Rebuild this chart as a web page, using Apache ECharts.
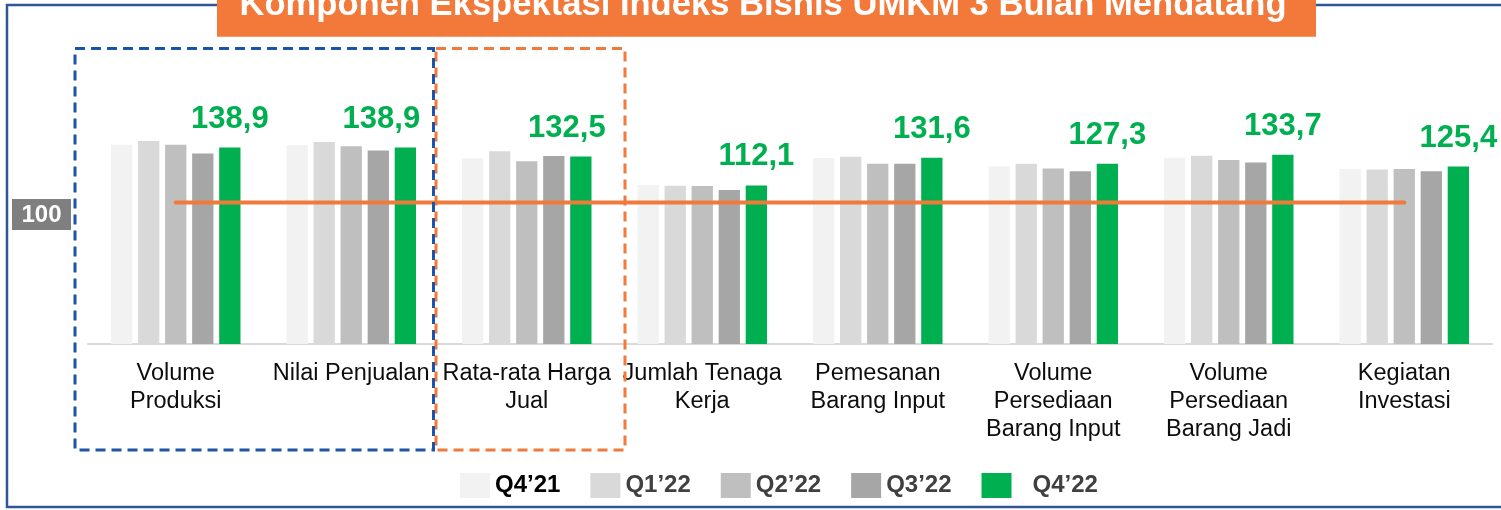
<!DOCTYPE html>
<html lang="id">
<head>
    <meta charset="UTF-8">
    <script src="https://cdn.jsdelivr.net/npm/echarts@6/dist/echarts.min.js"></script>
    <title>Komponen Ekspektasi Indeks Bisnis UMKM</title>
    <style>
        html, body { margin: 0; padding: 0; background: #fff; }
        #main { width: 1501px; height: 510px; }
    </style>
</head>
<body>
    <div id="main"></div>
    <script>
        // data
        var categories = ['Volume\nProduksi', 'Nilai Penjualan', 'Rata-rata Harga\nJual', 'Jumlah Tenaga\nKerja',
            'Pemesanan\nBarang Input', 'Volume\nPersediaan\nBarang Input', 'Volume\nPersediaan\nBarang Jadi', 'Kegiatan\nInvestasi'];
        var q421 = [140.8, 140.5, 131.2, 112.3, 131.4, 125.7, 131.6, 123.6];
        var q122 = [143.4, 142.7, 136.3, 111.9, 132.3, 127.4, 133.0, 123.4];
        var q222 = [140.8, 139.8, 129.1, 111.6, 127.4, 124.1, 130.0, 123.6];
        var q322 = [134.7, 136.8, 132.8, 108.8, 127.4, 122.0, 128.3, 122.0];
        var q422 = [138.9, 138.9, 132.5, 112.1, 131.6, 127.3, 133.7, 125.4];
        var baseline = [100, 100, 100, 100, 100, 100, 100, 100];
        var seriesNames = ['Q4\u201921', 'Q1\u201922', 'Q2\u201922', 'Q3\u201922', 'Q4\u201922'];
        var seriesColors = ['#F2F2F2', '#D9D9D9', '#BFBFBF', '#A6A6A6', '#00B050'];

        var font = '"Liberation Sans", Arial, sans-serif';
        var chart = echarts.init(document.getElementById('main'));

        // labels of the 2nd and 3rd group are nudged left, clear of the dashed boxes
        var labelShift = { 1: -24, 2: -14 };

        function barSeries(i, values) {
            var s = {
                name: seriesNames[i],
                type: 'bar',
                data: values,
                barWidth: 21.3,
                barGap: '27%',
                itemStyle: { color: seriesColors[i] },
                z: 2
            };
            if (i === 4) {
                s.data = values.map(function (v, k) {
                    return labelShift[k] ? { value: v, label: { offset: [labelShift[k], 0] } } : v;
                });
                s.label = {
                    show: true,
                    position: 'top',
                    distance: 13,
                    color: '#00B050',
                    fontFamily: font,
                    fontWeight: 'bold',
                    fontSize: 31,
                    formatter: function (p) { return p.value.toFixed(1).replace('.', ','); }
                };
            }
            return s;
        }

        var option = {
            animation: false,
            backgroundColor: '#fff',
            grid: { left: 88, right: 9, top: 61, bottom: 166 },
            legend: {
                left: 455,
                top: 468,
                icon: 'rect',
                itemWidth: 30,
                itemHeight: 25,
                itemGap: 30,
                textStyle: { fontFamily: font, fontWeight: 'bold', fontSize: 24, color: '#404040' },
                data: [
                    { name: seriesNames[0], textStyle: { color: '#000' } },
                    seriesNames[1], seriesNames[2], seriesNames[3],
                    { name: seriesNames[4], textStyle: { padding: [0, 0, 0, 16] } }
                ]
            },
            xAxis: {
                type: 'category',
                data: categories,
                axisLine: { lineStyle: { color: '#D9D9D9', width: 2 } },
                axisTick: { show: false },
                axisLabel: {
                    interval: 0,
                    hideOverlap: false,
                    margin: 16,
                    color: '#0D0D0D',
                    fontFamily: font,
                    fontSize: 23.5,
                    lineHeight: 28
                }
            },
            yAxis: {
                type: 'value',
                min: 0,
                max: 200,
                show: false,
                splitLine: { show: false }
            },
            series: [
                barSeries(0, q421),
                barSeries(1, q122),
                barSeries(2, q222),
                barSeries(3, q322),
                barSeries(4, q422),
                {
                    name: 'Rata-rata',
                    type: 'line',
                    data: baseline,
                    symbol: 'none',
                    lineStyle: { color: '#F07A3A', width: 4, cap: 'round' },
                    z: 5
                }
            ],
            graphic: [
                // outer frame
                { type: 'rect', shape: { x: 7, y: 5, width: 1510, height: 502 },
                  style: { fill: 'none', stroke: '#2F5597', lineWidth: 2.5 }, z: 10 },
                // title box
                { type: 'rect', shape: { x: 217, y: -10, width: 1099, height: 46.7 },
                  style: { fill: '#F2793A' }, z: 11 },
                { type: 'text', x: 763, y: 5, z: 12,
                  style: { text: 'Komponen Ekspektasi Indeks Bisnis UMKM 3 Bulan Mendatang',
                           fill: '#fff', font: 'bold 34.6px ' + font, align: 'center', verticalAlign: 'middle' } },
                // dashed highlight boxes
                { type: 'rect', shape: { x: 75, y: 48.5, width: 358.5, height: 401.5 },
                  style: { fill: 'none', stroke: '#1A56A4', lineWidth: 3, lineDash: [10, 6] }, z: 14 },
                { type: 'rect', shape: { x: 436, y: 48.5, width: 189, height: 401.5 },
                  style: { fill: 'none', stroke: '#F07A3A', lineWidth: 3, lineDash: [10, 6] }, z: 13 },
                // 100 marker
                { type: 'rect', shape: { x: 12, y: 199, width: 59, height: 31 },
                  style: { fill: '#7F7F7F' }, z: 15 },
                { type: 'text', x: 41.5, y: 215, z: 16,
                  style: { text: '100', fill: '#fff', font: 'bold 24px ' + font, align: 'center', verticalAlign: 'middle' } }
            ]
        };

        chart.setOption(option);
    </script>
</body>
</html>
